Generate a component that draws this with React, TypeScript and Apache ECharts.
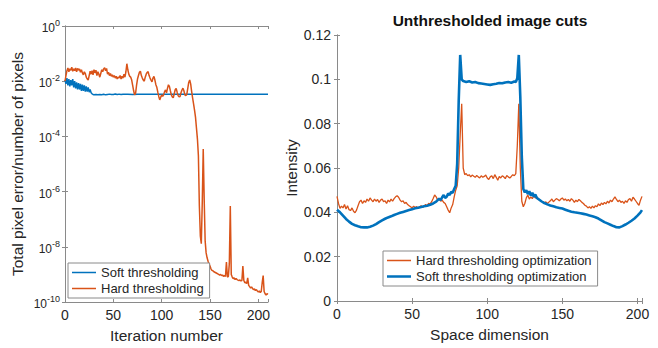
import React, { useEffect, useRef } from "react";
import * as echarts from "echarts";

const FONT = "Liberation Sans, Arial, Helvetica, sans-serif";
const BLUE = "#0072BD";
const ORANGE = "#D95319";
const AXIS = "#8a8a8a";
const TEXT = "#262626";

// ---- Left panel: convergence (log scale) ----
const iterTicks = [0, 50, 100, 150, 200];
const softIter = [
  0, 1, 2, 3, 4, 5, 6, 7, 8, 9, 10, 11, 12, 13, 14, 15, 16, 17, 18, 19, 20, 21, 22, 23, 24, 25, 26, 27, 28, 29,
  30, 32, 34, 36, 38, 40, 42, 44, 46, 48, 50, 52, 54, 56, 58, 60,
  65, 70, 75, 80, 90, 100, 120, 150, 180, 210,
];
const softErr = [
  1.1e-2, 8e-3, 1.3e-2, 7e-3, 1.2e-2, 6.5e-3, 1.1e-2, 7e-3, 1.2e-2, 6e-3,
  1.0e-2, 5.5e-3, 9e-3, 5e-3, 8.5e-3, 5e-3, 8e-3, 4.5e-3, 7.5e-3, 4.5e-3,
  7e-3, 4.2e-3, 6.5e-3, 4.2e-3, 6e-3, 4e-3, 5e-3, 3.8e-3, 3.5e-3, 3.3e-3,
  3.2e-3, 3.3e-3, 3.2e-3, 3.3e-3, 3.25e-3, 3.35e-3, 3.2e-3, 3.3e-3, 3.4e-3, 3.3e-3, 3.3e-3, 3.45e-3, 3.3e-3, 3.4e-3, 3.3e-3, 3.35e-3,
  3.35e-3, 3.3e-3, 3.35e-3, 3.35e-3, 3.35e-3, 3.35e-3, 3.35e-3, 3.35e-3, 3.35e-3, 3.35e-3,
];
// hard thresholding error, index = iteration number (0..210)
const hardErr = [
  1.0e-2, 1.6e-2, 2.4e-2, 3.0e-2, 2.2e-2, 2.8e-2, 2.5e-2, 3.2e-2, 2.3e-2, 2.8e-2,
  2.4e-2, 3.0e-2, 2.2e-2, 2.9e-2, 2.5e-2, 2.8e-2, 2.1e-2, 2.6e-2, 2.0e-2, 1.7e-2,
  2.2e-2, 1.9e-2, 1.4e-2, 1.2e-2, 1.1e-2, 1.6e-2, 2.3e-2, 1.8e-2, 2.4e-2, 1.7e-2,
  2.6e-2, 2.0e-2, 2.5e-2, 1.6e-2, 2.2e-2, 1.8e-2, 1.4e-2, 1.9e-2, 2.6e-2, 2.2e-2,
  2.8e-2, 3.1e-2, 2.4e-2, 2.9e-2, 1.8e-2, 2.1e-2, 1.6e-2, 1.9e-2, 1.5e-2, 1.7e-2,
  1.4e-2, 1.6e-2, 1.3e-2, 1.5e-2, 1.2e-2, 1.4e-2, 1.3e-2, 1.6e-2, 1.2e-2, 1.5e-2,
  1.3e-2, 1.8e-2, 1.4e-2, 2.2e-2, 4.3e-2, 2.6e-2, 1.8e-2, 1.5e-2, 1.4e-2, 1.1e-2,
  7e-3, 4.5e-3, 3.2e-3, 3.6e-3, 7e-3, 1.2e-2, 1.6e-2, 2.1e-2, 2.3e-2, 1.6e-2,
  1.3e-2, 1.1e-2, 1.0e-2, 1.4e-2, 1.8e-2, 2.1e-2, 2.2e-2, 1.6e-2, 1.3e-2, 1.1e-2,
  9.5e-3, 1.3e-2, 1.5e-2, 1.1e-2, 7.5e-3, 6e-3, 4e-3, 2.8e-3, 2.1e-3, 2.6e-3,
  3.2e-3, 2.8e-3, 3.2e-3, 4.2e-3, 4.8e-3, 3.8e-3, 5.5e-3, 7.4e-3, 6.5e-3, 4.5e-3,
  3.2e-3, 2.7e-3, 2.5e-3, 3.5e-3, 4.9e-3, 5.5e-3, 4.0e-3, 3.0e-3, 2.7e-3, 2.8e-3,
  3.8e-3, 4.8e-3, 5.6e-3, 4.5e-3, 3.2e-3, 3.0e-3, 3.3e-3, 5.5e-3, 9e-3, 1.1e-2,
  8e-3, 4.3e-3, 2.5e-3, 1.5e-3, 9e-4, 5e-4, 2e-4, 8e-5, 2e-5, 3e-7,
  2.5e-8, 1.3e-8, 4e-7, 3.5e-5, 5e-7, 1.6e-8, 6e-9, 4e-9, 3e-9, 2.4e-9,
  2e-9, 1.6e-9, 1.4e-9, 1.35e-9, 1.25e-9, 1.2e-9, 1.15e-9, 1.1e-9, 1.05e-9, 1e-9,
  9.5e-10, 1e-9, 9e-10, 9.5e-10, 8.5e-10, 9e-10, 8.5e-10, 2.8e-9, 8e-10, 8.5e-10,
  2.5e-9, 3e-7, 1e-9, 8e-10, 7e-10, 7.5e-10, 6.5e-10, 7e-10, 6.5e-10, 6.2e-10,
  6e-10, 6.3e-10, 5.8e-10, 6e-10, 2e-9, 6e-10, 5e-10, 5.2e-10, 4.6e-10, 7.5e-10,
  4e-10, 3.6e-10, 3.2e-10, 3.5e-10, 3.1e-10, 2.8e-10, 3e-10, 2.6e-10, 2.8e-10, 2.5e-10,
  2.3e-10, 2.5e-10, 2.2e-10, 2.4e-10, 5e-10, 9e-10, 2.4e-10, 2e-10, 1.8e-10, 2e-10,
  1.9e-10,
];

// ---- Right panel: image cuts ----
const spaceTicks = [0, 50, 100, 150, 200];
// hard thresholding cut, index = space position (0..203)
const hardCut = [
  0.0472, 0.0440, 0.0418, 0.0428, 0.0420, 0.0435, 0.0415, 0.0430, 0.0412, 0.0408,
  0.0420, 0.0405, 0.0398, 0.0410, 0.0430, 0.0448, 0.0455, 0.0440, 0.0452, 0.0445,
  0.0460, 0.0450, 0.0465, 0.0455, 0.0448, 0.0460, 0.0450, 0.0458, 0.0445, 0.0455,
  0.0460, 0.0448, 0.0452, 0.0440, 0.0455, 0.0447, 0.0460, 0.0450, 0.0462, 0.0470,
  0.0475, 0.0468, 0.0455, 0.0448, 0.0452, 0.0440, 0.0445, 0.0435, 0.0430, 0.0425,
  0.0420, 0.0428, 0.0422, 0.0426, 0.0418, 0.0425, 0.0430, 0.0422, 0.0428, 0.0435,
  0.0430, 0.0440, 0.0438, 0.0448, 0.0462, 0.0478, 0.0470, 0.0455, 0.0460, 0.0450,
  0.0455, 0.0445, 0.0440, 0.0425, 0.0410, 0.0398, 0.0420, 0.0435, 0.0470, 0.0500,
  0.0520, 0.0600, 0.0750, 0.0890, 0.0600, 0.0570, 0.0575, 0.0565, 0.0570, 0.0560,
  0.0568, 0.0563, 0.0558, 0.0566, 0.0560, 0.0555, 0.0565, 0.0558, 0.0562, 0.0568,
  0.0555, 0.0548, 0.0560, 0.0565, 0.0552, 0.0570, 0.0558, 0.0545, 0.0562, 0.0555,
  0.0565, 0.0560, 0.0552, 0.0566, 0.0560, 0.0555, 0.0562, 0.0570, 0.0565, 0.0575,
  0.0700, 0.0890, 0.0600, 0.0450, 0.0425, 0.0440, 0.0465, 0.0478, 0.0460, 0.0470,
  0.0462, 0.0475, 0.0465, 0.0470, 0.0460, 0.0455, 0.0450, 0.0448, 0.0443, 0.0447,
  0.0440, 0.0446, 0.0452, 0.0460, 0.0448, 0.0455, 0.0462, 0.0458, 0.0452, 0.0460,
  0.0465, 0.0455, 0.0460, 0.0452, 0.0458, 0.0450, 0.0462, 0.0455, 0.0445, 0.0455,
  0.0448, 0.0458, 0.0452, 0.0445, 0.0440, 0.0432, 0.0428, 0.0420, 0.0425, 0.0418,
  0.0428, 0.0420, 0.0430, 0.0425, 0.0438, 0.0430, 0.0442, 0.0435, 0.0445, 0.0438,
  0.0450, 0.0442, 0.0455, 0.0448, 0.0460, 0.0470, 0.0458, 0.0448, 0.0455, 0.0445,
  0.0450, 0.0440, 0.0452, 0.0445, 0.0458, 0.0462, 0.0450, 0.0468, 0.0460, 0.0450,
  0.0440, 0.0432, 0.0455, 0.0472,
];
const softCutX = [
  0, 2, 4, 6, 8, 10, 12, 14, 16, 18, 20, 22, 24, 26, 28, 30, 32, 34, 36, 38, 40, 42, 44, 46, 48, 50, 52, 54, 56, 58, 60, 62, 64, 66,
  68, 69, 70, 71, 72, 73, 74, 75, 76, 77, 78, 79, 80, 81, 82, 83, 84,
  86, 88, 90, 92, 94, 96, 98, 100, 102, 104, 106, 108, 110, 112, 114, 116, 118,
  119, 120, 121, 122, 123, 124, 125, 126, 127, 128, 129, 130, 131, 132, 133, 134,
  136, 138, 140, 142, 144, 146, 148, 150, 152, 154, 156, 158, 160, 162, 164, 166, 168, 170, 172, 174, 176, 178, 180, 182, 184, 186, 188, 190, 192, 194, 196, 198, 200, 202, 203,
];
const softCutY = [
  0.0412, 0.0400, 0.0385, 0.0370, 0.0358, 0.0348, 0.0342, 0.0337, 0.0333, 0.0332, 0.0332, 0.0335, 0.0340, 0.0347, 0.0356, 0.0364, 0.0371,
  0.0377, 0.0382, 0.0388, 0.0393, 0.0398, 0.0402, 0.0406, 0.0410, 0.0414, 0.0418, 0.0421, 0.0424, 0.0427, 0.0430, 0.0434, 0.0440, 0.0448,
  0.0462, 0.0455, 0.0468, 0.0478, 0.0465, 0.0470, 0.0485, 0.0478, 0.0492, 0.0488, 0.0505, 0.0520, 0.0620, 0.0900, 0.1110, 0.1000, 0.0992,
  0.0988, 0.0991, 0.0986, 0.0988, 0.0983, 0.0981, 0.0979, 0.0977, 0.0975, 0.0978, 0.0980, 0.0983, 0.0982, 0.0986, 0.0988, 0.0985, 0.0990,
  0.0988, 0.1005, 0.1110, 0.0920, 0.0650, 0.0505, 0.0490, 0.0500, 0.0482, 0.0495, 0.0476, 0.0488, 0.0470, 0.0480, 0.0465, 0.0460,
  0.0450, 0.0442, 0.0436, 0.0431, 0.0427, 0.0423, 0.0420, 0.0417, 0.0412, 0.0407, 0.0403, 0.0400, 0.0398, 0.0396, 0.0393, 0.0390, 0.0386,
  0.0382, 0.0378, 0.0372, 0.0364, 0.0356, 0.0350, 0.0344, 0.0338, 0.0333, 0.0332, 0.0338, 0.0345, 0.0353, 0.0362, 0.0372, 0.0385, 0.0400, 0.0410,
];

const axisLineStyle = { lineStyle: { color: AXIS, width: 1 } };
const tickStyle = { inside: true, length: 3, lineStyle: { color: AXIS, width: 1 } };
const labelBase = { color: TEXT, fontFamily: FONT, fontSize: 14 };
const nameStyle = { color: TEXT, fontFamily: FONT, fontSize: 15.5 };

// legend line icons: invisible zero-height bars keep the 0..12 box, the middle bar is the line
const THIN_LINE = "path://M0,0h24v0h-24zM0,5.25h24v1.5h-24zM0,12h24v0h-24z";
const THICK_LINE = "path://M0,0h24v0h-24zM0,4.7h24v2.6h-24zM0,12h24v0h-24z";

function tickFormatter(ticks: number[]) {
  return (v: number) =>
    ticks.indexOf(Math.round(v)) >= 0 && Math.abs(v - Math.round(v)) < 1e-6 ? String(Math.round(v)) : "";
}

export default function App() {
  const ref = useRef<HTMLDivElement>(null);
  useEffect(() => {
    if (!ref.current) return;
    const chart = echarts.init(ref.current, undefined, { renderer: "svg" });
    const mirrorX = (grid: number, min: number, max: number) => ({
      gridIndex: grid,
      type: "value",
      position: "top",
      min,
      max,
      interval: 50,
      axisLine: axisLineStyle,
      axisTick: tickStyle,
      axisLabel: { show: false },
      splitLine: { show: false },
    });
    const legendBase = {
      orient: "vertical",
      itemWidth: 24,
      itemHeight: 12,
      itemGap: 3,
      padding: [3, 6, 3, 4],
      backgroundColor: "#fff",
      borderColor: AXIS,
      borderWidth: 1,
      selectedMode: false,
      textStyle: { fontSize: 13, color: TEXT, fontFamily: FONT },
    };
    chart.setOption({
      animation: false,
      textStyle: { fontFamily: FONT },
      graphic: [
        {
          type: "text",
          x: 490,
          y: 20,
          style: {
            text: "Unthresholded image cuts",
            align: "center",
            verticalAlign: "middle",
            fill: "#111",
            font: `bold 15.5px ${FONT}`,
          },
        },
      ],
      grid: [
        { left: 65, top: 26, width: 203, height: 277 },
        { left: 337, top: 35, width: 305, height: 266 },
      ],
      legend: [
        {
          ...legendBase,
          left: 68,
          top: 263,
          data: [
            { name: "Soft thresholding", icon: THIN_LINE, itemStyle: { color: BLUE } },
            { name: "Hard thresholding", icon: THIN_LINE, itemStyle: { color: ORANGE } },
          ],
        },
        {
          ...legendBase,
          left: 383,
          top: 251,
          data: [
            { name: "Hard thresholding optimization", icon: THIN_LINE, itemStyle: { color: ORANGE } },
            { name: "Soft thresholding optimization", icon: THICK_LINE, itemStyle: { color: BLUE } },
          ],
        },
      ],
      xAxis: [
        {
          gridIndex: 0,
          type: "value",
          min: 0,
          max: 210,
          interval: 50,
          axisLine: axisLineStyle,
          axisTick: tickStyle,
          axisLabel: { ...labelBase, margin: 6, formatter: tickFormatter(iterTicks) },
          splitLine: { show: false },
          name: "Iteration number",
          nameLocation: "middle",
          nameGap: 25,
          nameTextStyle: nameStyle,
        },
        mirrorX(0, 0, 210),
        {
          gridIndex: 1,
          type: "value",
          min: 0,
          max: 203,
          interval: 50,
          axisLine: axisLineStyle,
          axisTick: tickStyle,
          axisLabel: { ...labelBase, margin: 6, formatter: tickFormatter(spaceTicks) },
          splitLine: { show: false },
          name: "Space dimension",
          nameLocation: "middle",
          nameGap: 25,
          nameTextStyle: nameStyle,
        },
        mirrorX(1, 0, 203),
      ],
      yAxis: [
        {
          gridIndex: 0,
          type: "log",
          logBase: 100,
          min: 1e-10,
          max: 1,
          splitNumber: 5,
          axisLine: axisLineStyle,
          axisTick: tickStyle,
          minorTick: { show: false },
          splitLine: { show: false },
          axisLabel: {
            margin: 5,
            color: TEXT,
            fontFamily: FONT,
            formatter: (v: number) => `{b|10}{s|${Math.round(Math.log10(v))}}`,
            rich: {
              b: { fontSize: 12, color: TEXT, fontFamily: FONT, padding: [4, 0, 0, 0] },
              s: { fontSize: 9, color: TEXT, fontFamily: FONT, padding: [0, 0, 6, 0] },
            },
          },
          name: "Total pixel error/number of pixels",
          nameLocation: "middle",
          nameRotate: 90,
          nameGap: 40,
          nameTextStyle: nameStyle,
        },
        {
          gridIndex: 0,
          type: "log",
          logBase: 100,
          min: 1e-10,
          max: 1,
          splitNumber: 5,
          position: "right",
          axisLine: axisLineStyle,
          axisTick: tickStyle,
          splitLine: { show: false },
          axisLabel: { show: false },
        },
        {
          gridIndex: 1,
          type: "value",
          min: 0,
          max: 0.12,
          interval: 0.02,
          axisLine: axisLineStyle,
          axisTick: tickStyle,
          splitLine: { show: false },
          axisLabel: { ...labelBase, margin: 6 },
          name: "Intensity",
          nameLocation: "middle",
          nameRotate: 90,
          nameGap: 36,
          nameTextStyle: nameStyle,
        },
        {
          gridIndex: 1,
          type: "value",
          min: 0,
          max: 0.12,
          interval: 0.02,
          position: "right",
          axisLine: axisLineStyle,
          axisTick: tickStyle,
          splitLine: { show: false },
          axisLabel: { show: false },
        },
      ],
      series: [
        {
          type: "line",
          name: "Soft thresholding",
          xAxisIndex: 0,
          yAxisIndex: 0,
          symbol: "none",
          data: softIter.map((x, i) => [x, softErr[i]]),
          lineStyle: { color: BLUE, width: 1.5 },
          itemStyle: { color: BLUE },
        },
        {
          type: "line",
          name: "Hard thresholding",
          xAxisIndex: 0,
          yAxisIndex: 0,
          symbol: "none",
          data: hardErr.map((v, i) => [i, v]),
          lineStyle: { color: ORANGE, width: 1.5 },
          itemStyle: { color: ORANGE },
        },
        {
          type: "line",
          name: "Hard thresholding optimization",
          xAxisIndex: 2,
          yAxisIndex: 2,
          symbol: "none",
          data: hardCut.map((v, i) => [i, v]),
          lineStyle: { color: ORANGE, width: 1.3 },
          itemStyle: { color: ORANGE },
        },
        {
          type: "line",
          name: "Soft thresholding optimization",
          xAxisIndex: 2,
          yAxisIndex: 2,
          symbol: "none",
          data: softCutX.map((x, i) => [x, softCutY[i]]),
          lineStyle: { color: BLUE, width: 2.6 },
          itemStyle: { color: BLUE },
        },
      ],
    });
    return () => chart.dispose();
  }, []);
  return (
    <div
      ref={ref}
      style={{ position: "fixed", left: 0, top: 0, width: 658, height: 348, background: "#fff" }}
    />
  );
}
